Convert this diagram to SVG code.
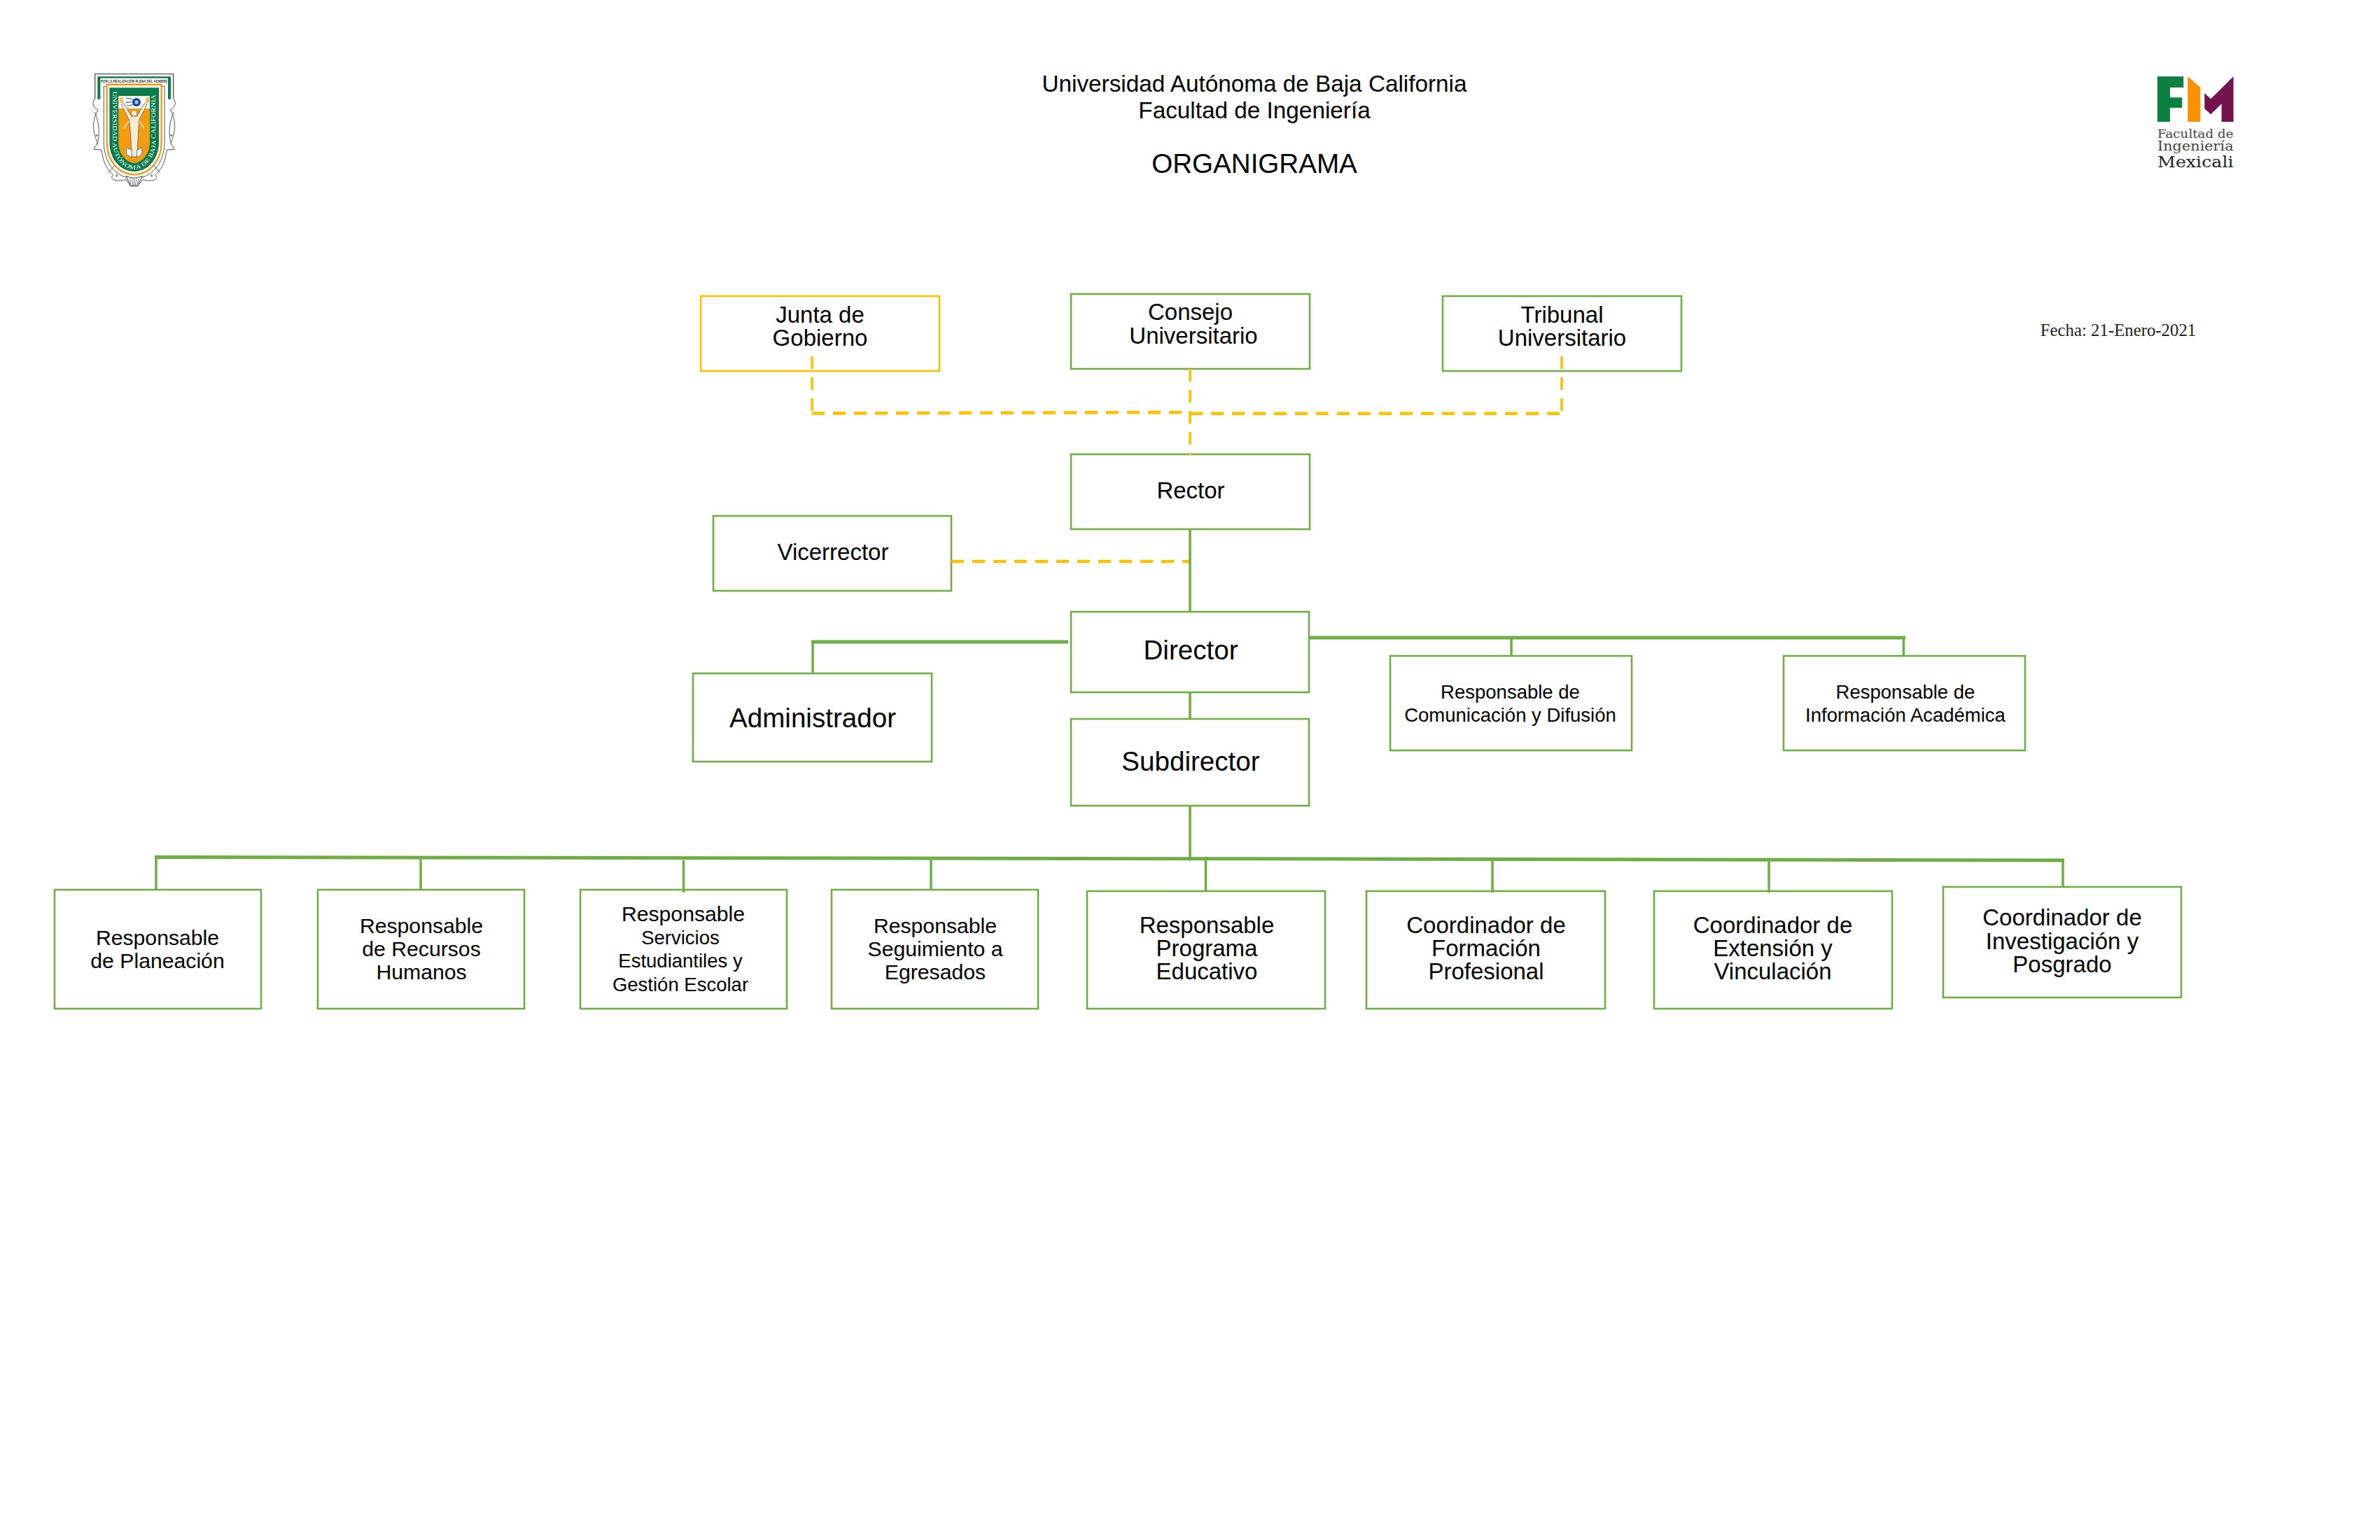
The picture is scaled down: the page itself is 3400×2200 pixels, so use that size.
<svg xmlns="http://www.w3.org/2000/svg" width="3400" height="2200" viewBox="0 0 3400 2200">
<style>
text{font-family:"Liberation Sans",Arial,sans-serif;fill:#000;text-anchor:middle}
.box{fill:#fff;stroke:#70AD47;stroke-width:2.6}
.boxy{fill:#fff;stroke:#FFC000;stroke-width:2.6}
.s{fill:none;stroke:#70AD47;stroke-width:3.5}
.t{fill:none;stroke:#70AD47;stroke-width:5}
.d{fill:none;stroke:#FFC000;stroke-width:3.6;stroke-dasharray:18 12}
.dh{fill:none;stroke:#FFC000;stroke-width:4.6;stroke-dasharray:18 12}
.f27{font-size:27.5px}.f30{font-size:30.2px}.f33{font-size:33px}.f38{font-size:38.6px}
.ser{font-family:"Liberation Serif","Times New Roman",serif}
.slab{font-family:"DejaVu Serif",serif}
.fish{fill:#fff;stroke:#555;stroke-width:3}
</style>
<rect width="3400" height="2200" fill="#fff"/>

<g id="crest" transform="translate(80 60) scale(.3333)">
<path class="fish" d="M165,245C150,265 165,285 180,290C165,320 155,350 165,395C172,425 185,440 170,445L162,460L195,462C200,500 210,540 245,570C225,590 260,600 300,590L320,618H350L370,590C410,600 445,590 425,570C460,540 470,500 475,462L508,460L500,445C485,440 498,425 505,395C515,350 505,320 490,290C505,285 520,265 505,245"/>
<path d="M167,245V137H503V245" fill="#fff" stroke="#555" stroke-width="4"/>
<path d="M178,245V148H492V245H480V178H190V245Z" fill="#0B7A4B"/>
<rect x="190" y="155" width="290" height="23" fill="#fff"/>
<text x="335" y="174" style="font-size:18px;font-weight:bold;fill:#333" textLength="286" lengthAdjust="spacingAndGlyphs">POR LA REALIZACIÓN PLENA DEL HOMBRE</text>
<path d="M205,190V430C205,520 260,585 335,585C410,585 465,520 465,430V190Z" fill="#fff" stroke="#555" stroke-width="3"/>
<path d="M218,183H452V430C452,510 400,568 335,568C270,568 218,510 218,430Z" fill="#fff" stroke="#F39C12" stroke-width="7"/>
<path d="M229,196H441V430C441,500 395,555 335,555C275,555 229,500 229,430Z" fill="#0B7A4B"/>
<path d="M268,232H402V430C402,480 370,515 335,520C300,515 268,480 268,430Z" fill="#F39C12"/>
<path d="M268,232H402V285H268Z" fill="#fff"/>
<path d="M272,238H288V262H272ZM384,238H400V262H384Z" fill="#F5C26B"/>
<path d="M300,290L320,330M370,290L350,330M292,370L315,335M378,370L355,335" fill="none" stroke="#FBEBD2" stroke-width="4"/>
<path d="M300,240Q318,240 330,248M298,258H326M304,274Q318,274 330,268" fill="none" stroke="#1A3F8F" stroke-width="3"/>
<circle cx="345" cy="258" r="18" fill="#1446A8"/><circle cx="345" cy="258" r="8" fill="#9FC8E8"/>
<path d="M280,268L291,263L323,318H347L379,263L390,268L356,335L353,385L350,440L347,492H325L322,440L319,385L314,335Z" fill="#FBEBD2" stroke="#444" stroke-width="2"/>
<circle cx="335" cy="305" r="13" fill="#FBEBD2" stroke="#C9651A" stroke-width="3"/>
<path d="M302,452L325,465V495L302,482ZM368,452L347,465V495L368,482Z" fill="#fff" stroke="#444" stroke-width="2"/>
<path id="crestarc" d="M249,212V430C249,490 290,540 335,540C380,540 421,490 421,430V212" fill="none"/>
<text class="ser" style="font-size:25px;fill:#fff;text-anchor:start" dy="6"><textPath href="#crestarc" textLength="730" lengthAdjust="spacingAndGlyphs">UNIVERSIDAD AUTÓNOMA DE BAJA CALIFORNIA</textPath></text>
<path d="M300,575L320,615H350L370,575Q335,590 300,575Z" fill="#fff" stroke="#444" stroke-width="3"/>
<path d="M325,585L330,612M335,585V612M345,585L340,612M315,585L322,610M355,585L348,610" stroke="#444" stroke-width="2"/>
<path d="M165,300C185,340 190,400 175,440M505,300C485,340 480,400 495,440M225,560L250,530M445,560L420,530" fill="none" stroke="#555" stroke-width="3"/>
<circle cx="175" cy="400" r="5" fill="#888"/><circle cx="495" cy="400" r="5" fill="#888"/><circle cx="260" cy="573" r="5" fill="#888"/><circle cx="410" cy="573" r="5" fill="#888"/>
</g>

<g id="fim-logo" transform="translate(3040 80) scale(.3333)">
<path d="M126,88H238V135H180V178H232V222H180V282H126Z" fill="#0B8040"/>
<path d="M256,88L310,135V282H256Z" fill="#FF9100"/>
<path d="M328,160L355,184L452,88V282H401V205L355,250L328,226Z" fill="#74124F"/>
<text class="slab" x="289" y="350" style="font-size:52px;fill:#444" textLength="326" lengthAdjust="spacingAndGlyphs">Facultad de</text>
<text class="slab" x="289" y="406" style="font-size:56px;fill:#444" textLength="326" lengthAdjust="spacingAndGlyphs">Ingeniería</text>
<text class="slab" x="289" y="477" style="font-size:68px;fill:#222" textLength="326" lengthAdjust="spacingAndGlyphs">Mexicali</text>
</g>

<g id="title">
<text style="font-size:33.3px" x="1792" y="130.7">Universidad Autónoma de Baja California</text>
<text style="font-size:33.3px" x="1792" y="169">Facultad de Ingeniería</text>
<text class="f38" x="1792" y="247.3">ORGANIGRAMA</text>
</g>
<text class="ser" x="3026" y="480" style="font-size:24.8px;fill:#222">Fecha: 21-Enero-2021</text>

<g id="nodes">
<g id="junta"><rect class="boxy" x="1001" y="423" width="341" height="107"/><text class="f33" x="1171.5" y="460.7">Junta de</text><text class="f33" x="1171.5" y="494">Gobierno</text></g>
<g id="consejo"><rect class="box" x="1530" y="420" width="341" height="107"/><text class="f33" x="1700.5" y="457">Consejo</text><text class="f33" x="1705" y="491">Universitario</text></g>
<g id="tribunal"><rect class="box" x="2061" y="423" width="341" height="107"/><text class="f33" x="2231.5" y="460.7">Tribunal</text><text class="f33" x="2231.5" y="494">Universitario</text></g>
<g id="rector"><rect class="box" x="1530" y="649" width="341" height="107"/><text class="f33" x="1701" y="712">Rector</text></g>
<g id="vicerrector"><rect class="box" x="1019" y="737" width="340" height="107"/><text class="f33" x="1190" y="800">Vicerrector</text></g>
<g id="director"><rect class="box" x="1530" y="874" width="340" height="115"/><text class="f38" x="1701" y="942">Director</text></g>
<g id="subdirector"><rect class="box" x="1530" y="1027" width="340" height="124"/><text class="f38" x="1701" y="1100.7">Subdirector</text></g>
<g id="administrador"><rect class="box" x="990" y="962" width="341" height="126"/><text class="f38" x="1161" y="1038.7">Administrador</text></g>
<g id="comunicacion"><rect class="box" x="1986" y="937" width="345" height="135"/><text class="f27" x="2157.5" y="997.7">Responsable de</text><text class="f27" x="2157.5" y="1030.7">Comunicación y Difusión</text></g>
<g id="informacion"><rect class="box" x="2548" y="937" width="345" height="135"/><text class="f27" x="2722" y="997.7">Responsable de</text><text class="f27" x="2722" y="1030.7">Información Académica</text></g>
<g id="planeacion"><rect class="box" x="78" y="1271" width="295" height="170"/><text class="f30" x="225" y="1349.7">Responsable</text><text class="f30" x="225" y="1382.7">de Planeación</text></g>
<g id="recursos"><rect class="box" x="454" y="1271" width="295" height="170"/><text class="f30" x="602" y="1332.7">Responsable</text><text class="f30" x="602" y="1365.7">de Recursos</text><text class="f30" x="602" y="1399">Humanos</text></g>
<g id="servicios"><rect class="box" x="829" y="1271" width="295" height="170"/><text class="f30" x="976" y="1315.7">Responsable</text><text class="f27" x="972" y="1349">Servicios</text><text class="f27" x="972" y="1382">Estudiantiles y</text><text class="f27" x="972" y="1415.7">Gestión Escolar</text></g>
<g id="seguimiento"><rect class="box" x="1188" y="1271" width="295" height="170"/><text class="f30" x="1336" y="1332.7">Responsable</text><text class="f30" x="1336" y="1365.7">Seguimiento a</text><text class="f30" x="1336" y="1399">Egresados</text></g>
<g id="programa"><rect class="box" x="1553" y="1273" width="340" height="168"/><text class="f33" x="1724" y="1332.7">Responsable</text><text class="f33" x="1724" y="1365.7">Programa</text><text class="f33" x="1724" y="1399">Educativo</text></g>
<g id="formacion"><rect class="box" x="1952" y="1273" width="341" height="168"/><text class="f33" x="2123" y="1332.7">Coordinador de</text><text class="f33" x="2123" y="1365.7">Formación</text><text class="f33" x="2123" y="1399">Profesional</text></g>
<g id="extension"><rect class="box" x="2363" y="1273" width="340" height="168"/><text class="f33" x="2532.5" y="1332.7">Coordinador de</text><text class="f33" x="2532.5" y="1365.7">Extensión y</text><text class="f33" x="2532.5" y="1399">Vinculación</text></g>
<g id="investigacion"><rect class="box" x="2776" y="1267" width="340" height="158"/><text class="f33" x="2946" y="1322">Coordinador de</text><text class="f33" x="2946" y="1355.7">Investigación y</text><text class="f33" x="2946" y="1389">Posgrado</text></g>
</g>

<g id="connectors">
<path class="d" d="M1160,509V590"/>
<path class="dh" d="M1160,590.5L1700,589"/>
<path class="d" d="M2231,509V590"/>
<path class="dh" d="M1700,590.8H2231"/>
<path class="d" d="M1700,527V650"/>
<path class="dh" d="M1359,802H1700"/>
<path class="s" d="M1700,756V874"/>
<path class="s" d="M1700,989V1027"/>
<path class="s" d="M1161,962V917"/>
<path class="t" d="M1159,917H1526"/>
<path class="t" d="M1871,911H2722"/>
<path class="s" d="M2159,911V937M2719.5,911V937"/>
<path class="s" d="M1700,1151V1227"/>
<path class="t" d="M221,1224.5L1700,1226.7L2949,1229"/>
<path class="s" d="M223,1224V1271M601,1226V1271M976.5,1229V1275M1330,1226V1271M1722.5,1224V1273M2132,1229V1275M2527,1229V1275M2947,1229V1267"/>
</g>
</svg>
